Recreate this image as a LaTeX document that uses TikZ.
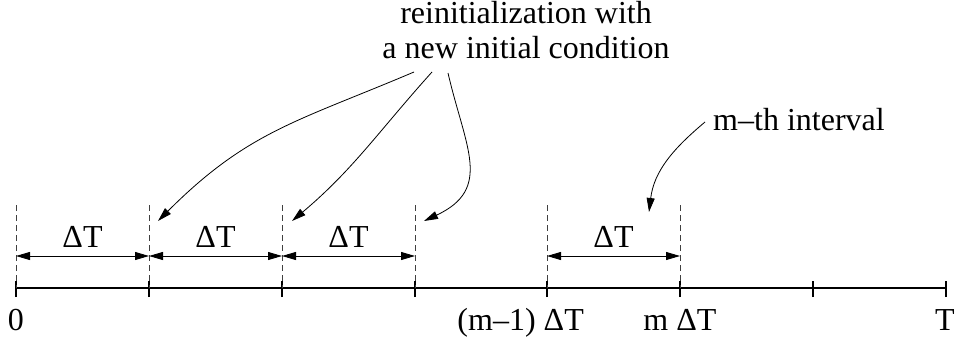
\documentclass[tikz,border=0pt]{standalone}
\usepackage{fontspec}
\setmainfont{Liberation Serif}
\usetikzlibrary{arrows.meta}
\begin{document}
\begin{tikzpicture}[x=1pt,y=1pt,
  lbl/.style={font=\fontsize{32}{34}\selectfont, inner sep=0pt, anchor=base},
  tip/.tip={Triangle[length=14pt,width=8pt]},
  dim/.style={tip-tip, line width=0.9pt},
  guide/.style={dash pattern=on 6pt off 4pt, line width=0.8pt, black!75},
  axisline/.style={line width=1.2pt},
  pointer/.style={-tip, line width=0.8pt}]
\useasboundingbox (0,0) rectangle (959,341);
\foreach \i/\x in {0/16,1/149,2/282,3/415,4/547,5/680,6/813,7/946} {
  \coordinate (t\i) at (\x,53);
  \coordinate (tu\i) at (\x,60);
  \coordinate (tl\i) at (\x,44);
  \coordinate (d\i) at (\x,136);
  \coordinate (a\i) at (\x,85);
}
% time axis with ticks
\draw[axisline] (t0) -- (t7);
\foreach \i in {0,...,7} \draw[axisline] (tl\i) -- (tu\i);
% dashed guides
\foreach \i in {0,...,5} \draw[guide] (d\i) -- (t\i);
% interval dimensions
\draw[dim] (a0) -- (a1);
\draw[dim] (a1) -- (a2);
\draw[dim] (a2) -- (a3);
\draw[dim] (a4) -- (a5);
\node[lbl] (dt1) at (82.5,94) {ΔT};
\node[lbl] (dt2) at (215.5,94) {ΔT};
\node[lbl] (dt3) at (348.5,94) {ΔT};
\node[lbl] (dt4) at (613.5,94) {ΔT};
% axis labels
\node[lbl] (l0) at (16,11) {0};
\node[lbl, anchor=base east] (lm1) at (584,11) {(m--1) ΔT};
\node[lbl] (lm) at (680,11) {m ΔT};
\node[lbl] (lT) at (945,11) {T};
% annotations
\node[lbl] (r1) at (526,317) {reinitialization with};
\node[lbl] (r2) at (526,283) {a new initial condition};
\node[lbl] (mth) at (799,211) {m--th interval};
\coordinate (s1) at (414,269); \coordinate (e1) at (158,120);
\coordinate (s2) at (432,269); \coordinate (e2) at (292,120);
\coordinate (s3) at (448,268); \coordinate (e3) at (424,120);
\coordinate (s4) at (705,219); \coordinate (e4) at (649,129);
\draw[pointer] (s1) to[out=203,in=45,looseness=1.1] (e1);
\draw[pointer] (s2) to[out=228,in=40] (e2);
\draw[pointer] (s3) to[out=-77,in=25,looseness=1.3] (e3);
\draw[pointer] (s4) to[out=220,in=83] (e4);
\end{tikzpicture}
\end{document}
